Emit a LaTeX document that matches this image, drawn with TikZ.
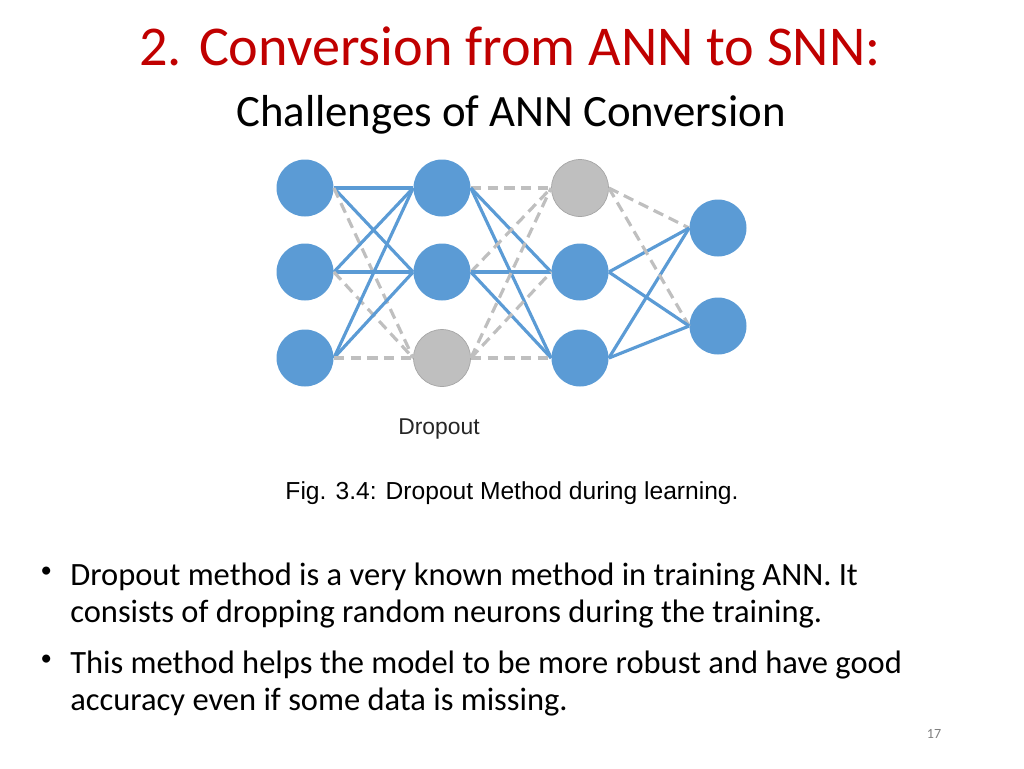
\documentclass[tikz,border=0pt]{standalone}
\usepackage{fontspec}
\setmainfont{Carlito}
\newfontfamily\arialfont{Liberation Sans}
\usetikzlibrary{positioning}
\definecolor{neuron}{RGB}{91,155,213}
\definecolor{dropped}{RGB}{191,191,191}
\definecolor{titlered}{RGB}{192,0,0}

\begin{document}
\begin{tikzpicture}[
    x=0.02cm, y=-0.02cm,
    neuronbox/.style={circle, fill=neuron, minimum size=1.14cm, inner sep=0pt},
    dropbox/.style={circle, fill=dropped, draw=gray!70, minimum size=1.14cm, inner sep=0pt},
    link/.style={neuron, line width=1.8pt},
    droplink/.style={dropped, line width=1.8pt, dash pattern=on 6pt off 3.5pt},
    bullettext/.style={anchor=north west, align=left, font=\fontsize{18.5}{21}\selectfont, inner sep=0pt}
]
\useasboundingbox (0,0) rectangle (1024,768);

% Titles
\node[text=titlered, font=\fontsize{32}{36}\selectfont] (title) at (510,46) {2. Conversion from ANN to SNN:};
\node[font=\fontsize{25.5}{28}\selectfont] (subtitle) at (511,115) {Challenges of ANN Conversion};

% Layers
\node[neuronbox] (a1) at (305,188) {};
\node[neuronbox] (a2) at (305,272) {};
\node[neuronbox] (a3) at (305,358) {};
\node[neuronbox] (b1) at (442,188) {};
\node[neuronbox] (b2) at (442,272) {};
\node[dropbox]   (b3) at (442,358) {};
\node[dropbox]   (c1) at (580,188) {};
\node[neuronbox] (c2) at (580,272) {};
\node[neuronbox] (c3) at (580,358) {};
\node[neuronbox] (d1) at (718,228) {};
\node[neuronbox] (d2) at (718,326) {};

% Connections
\foreach \i in {1,2,3} {
  \draw[link] (a\i.east) -- (b1.west);
  \draw[link] (a\i.east) -- (b2.west);
  \draw[droplink] (a\i.east) -- (b3.west);
}
\foreach \i in {1,2} {
  \draw[droplink] (b\i.east) -- (c1.west);
  \draw[link] (b\i.east) -- (c2.west);
  \draw[link] (b\i.east) -- (c3.west);
}
\draw[droplink] (b3.east) -- (c1.west);
\draw[droplink] (b3.east) -- (c2.west);
\draw[droplink] (b3.east) -- (c3.west);
\foreach \j in {1,2} {
  \draw[droplink] (c1.east) -- (d\j.west);
  \draw[link] (c2.east) -- (d\j.west);
  \draw[link] (c3.east) -- (d\j.west);
}

% Captions
\node[font=\arialfont\fontsize{13}{15}\selectfont, text=black!85] (dropout) at (439,429) {Dropout};
\node[font=\arialfont\fontsize{14}{16}\selectfont] (caption) at (512,493) {Fig. 3.4: Dropout Method during learning.};

% Bullets
\node[bullettext] (p1) at (70,563) {Dropout method is a very known method in training ANN. It\\consists of dropping random neurons during the training.};
\node[font=\fontsize{13}{15}\selectfont, left=10pt of p1.north west, anchor=north east, inner sep=0pt, yshift=-2pt] (m1) {\textbullet};
\node[bullettext] (p2) at (70,651) {This method helps the model to be more robust and have good\\accuracy even if some data is missing.};
\node[font=\fontsize{13}{15}\selectfont, left=10pt of p2.north west, anchor=north east, inner sep=0pt, yshift=-2pt] (m2) {\textbullet};

\node[font=\fontsize{8}{10}\selectfont, text=gray] (page) at (934,734) {17};
\end{tikzpicture}
\end{document}
